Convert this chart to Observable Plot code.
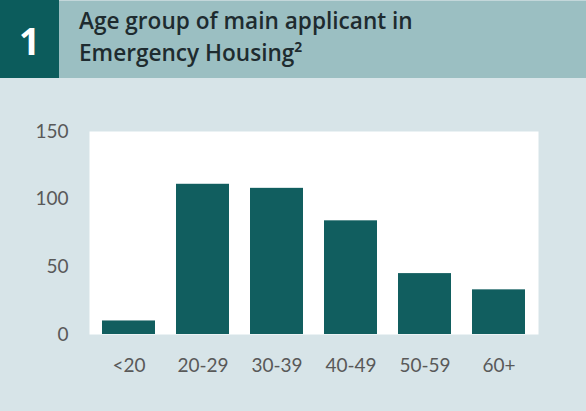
<!DOCTYPE html>
<html><head><meta charset="utf-8">
<script src="https://cdn.jsdelivr.net/npm/d3@7"></script>
<script src="https://cdn.jsdelivr.net/npm/@observablehq/plot@0.6"></script>
<style>
body{margin:0;background:#d7e4e8;width:586px;height:411px;overflow:hidden}
#hdr{position:relative;height:78px;background:#9bbfc2;border-top:1px solid #c3d7da;box-sizing:border-box}
#num{position:absolute;left:0;top:-1px;width:59px;height:78px;background:#0c5c5c;color:#fff;font:bold 37px "Open Sans";text-align:center;line-height:82px}
#title{position:absolute;left:79px;top:4px;font:600 22.6px "Open Sans";line-height:32px;color:#1e2b2f;letter-spacing:0}
#chart svg{display:block}
</style></head>
<body>
<div id="hdr"><div id="num">1</div><div id="title">Age group of main applicant in<br>Emergency Housing²</div></div>
<div id="chart"></div>
<script>
const ageGroups = ["<20", "20-29", "30-39", "40-49", "50-59", "60+"];
const counts = [10, 111, 108, 84, 45, 33];
const yTicks = [0, 50, 100, 150];

const data = ageGroups.map((g, i) => ({group: g, count: counts[i]}));

const chart = Plot.plot({
  width: 586,
  height: 333,
  marginTop: 53,
  marginBottom: 77,
  marginLeft: 89,
  marginRight: 48,
  style: {fontFamily: "Lato", fontSize: "19px", color: "#595959", background: "transparent"},
  x: {domain: ageGroups, paddingInner: 0.29, paddingOuter: 0.145, label: null, tickSize: 0, tickPadding: 24},
  y: {domain: [0, 150], ticks: yTicks, label: null, tickSize: 0, tickPadding: 21},
  marks: [
    Plot.frame({fill: "white", stroke: null}),
    Plot.barY(data, {x: "group", y: "count", fill: "#115e5f"})
  ]
});
document.getElementById("chart").append(chart);
</script>
</body></html>
